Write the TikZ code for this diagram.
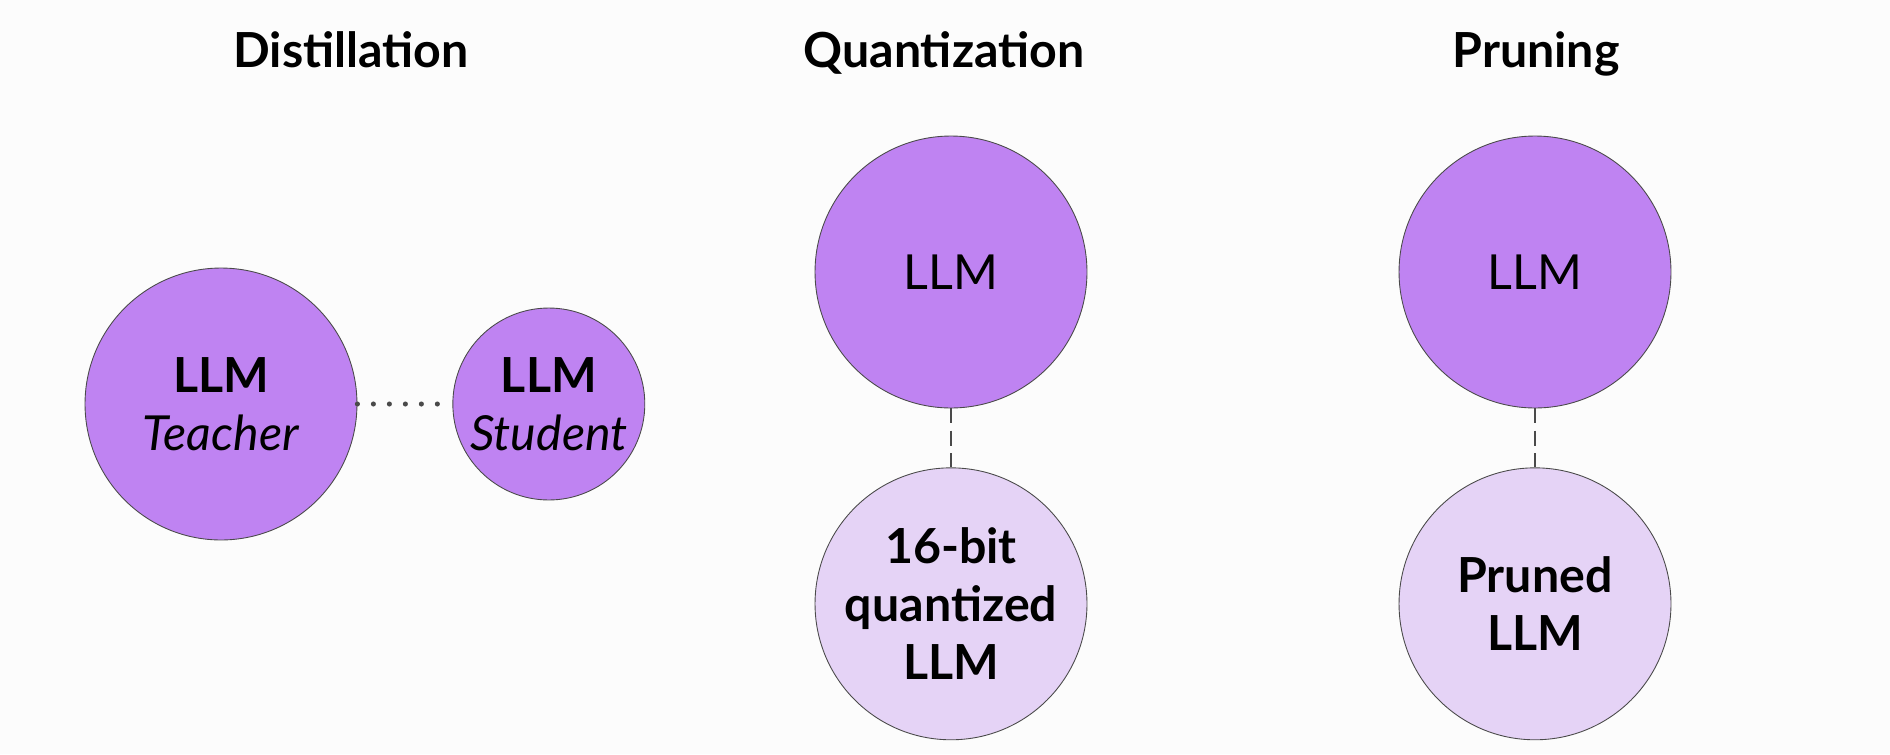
\documentclass[tikz,border=0pt]{standalone}
\usepackage{fontspec}
\setmainfont{Lato}
\usepackage{tikz}
\usetikzlibrary{positioning}
\definecolor{llmdark}{HTML}{BF83F2}
\definecolor{llmlight}{HTML}{E5D3F6}
\definecolor{rim}{HTML}{4A4A4A}
\definecolor{paper}{HTML}{FCFCFC}
\newcommand*{\stageX}[3]{%
  \node [stage title] (#1) at (#2) {%
    #3
  };
}

\begin{document}
\begin{tikzpicture}[x=0.02cm, y=-0.02cm,
    every node/.style={font=\fontsize{27.5}{33}\selectfont, text=black},
    stage title/.style={anchor=base, font=\fontsize{27.5}{33}\selectfont\bfseries},
    model/.style={circle, draw=rim, line width=0.5pt, align=center, inner sep=0pt},
    big model/.style={model, minimum size=5.44cm, fill=llmdark},
    small model/.style={model, minimum size=3.84cm, fill=llmdark},
    reduced model/.style={model, minimum size=5.44cm, fill=llmlight},
    dotted link/.style={draw=rim, line width=2.9pt, line cap=round,
                        dash pattern=on 0pt off 9.1pt, shorten >=0.24cm},
    dashed link/.style={draw=rim, line width=1.6pt,
                        dash pattern=on 8.5pt off 4.2pt}]

\useasboundingbox [fill=paper] (0,0) rectangle (1890,754);

% titles
\stageX{distill}{351,67}{Distillation}
\stageX{quantize}{944,67}{Quantization}
\stageX{prune}{1536,67}{Pruning}

% distillation
\node (teacher) [big model] at (221,404) {\textbf{LLM}\\\textit{Teacher}};
\node (student) [small model, right=1.9cm of teacher] {\textbf{LLM}\\\textit{Student}};

% quantization
\node (quant) [big model] at (951,272) {LLM};
\node (quantized) [reduced model, below=1.18cm of quant] {\textbf{16-bit}\\\textbf{quantized}\\\textbf{LLM}};

% pruning
\node (prunefull) [big model] at (1535,272) {LLM};
\node (pruned) [reduced model, below=1.18cm of prunefull] {\textbf{Pruned}\\\textbf{LLM}};
%
\draw [dotted link] (teacher) -- (student);
\draw [dashed link] (quant) -- (quantized);
\draw [dashed link] (prunefull) -- (pruned);
\end{tikzpicture}
\end{document}
